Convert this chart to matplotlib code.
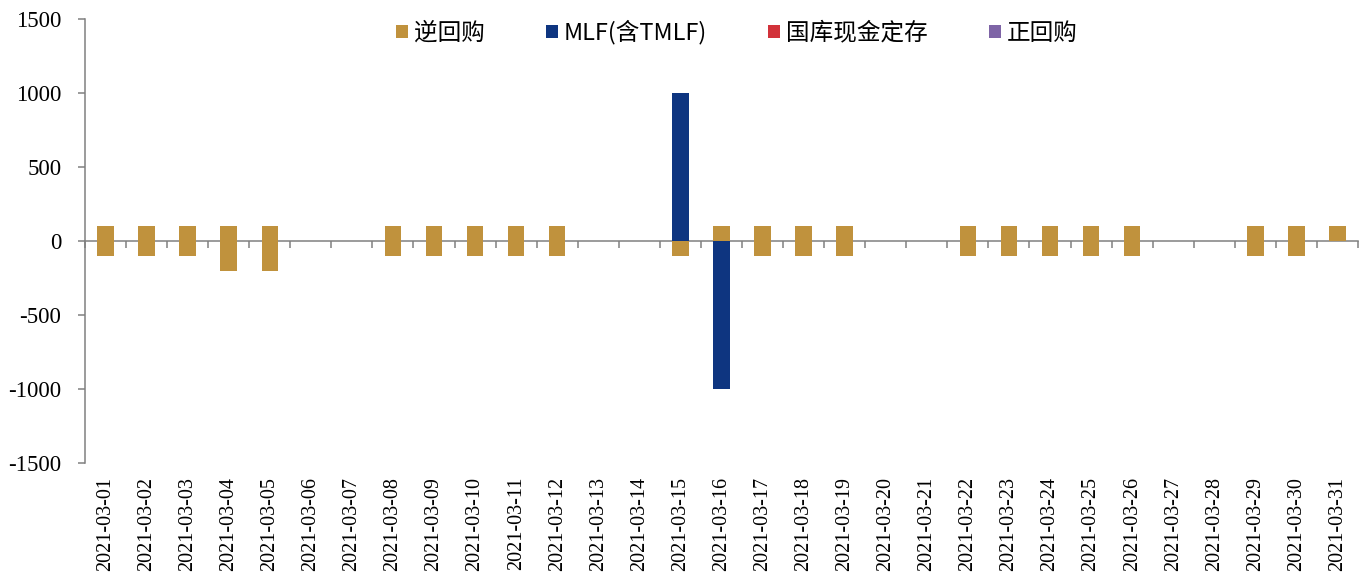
import numpy as np
import matplotlib.pyplot as plt

# 2021年3月公开市场操作（亿元）
dates = ["2021-03-%02d" % d for d in range(1, 32)]

# 逆回购投放（正）与到期（负）
rr_in = [100, 100, 100, 100, 100, 0, 0,
         100, 100, 100, 100, 100, 0, 0,
         100, 100, 100, 100, 100, 0, 0,
         100, 100, 100, 100, 100, 0, 0,
         100, 100, 100]
rr_out = [-100, -100, -100, -200, -200, 0, 0,
          -100, -100, -100, -100, -100, 0, 0,
          -100, -100, -100, -100, -100, 0, 0,
          -100, -100, -100, -100, -100, 0, 0,
          -100, -100, 0]
mlf = [0] * 14 + [1000, -1000] + [0] * 15
treasury = [0] * 31
repo = [0] * 31

c_rr = "#C0923D"
c_mlf = "#0E3580"
c_tr = "#D2323A"
c_repo = "#7E64A6"
grey = "#808080"

plt.rcParams["font.family"] = ["Liberation Serif", "DejaVu Serif"]
plt.rcParams["axes.unicode_minus"] = False

fig = plt.figure(figsize=(13.68, 5.77), dpi=100)
ax = fig.add_axes([0.0621, 0.1976, 0.9306, 0.7695])

x = np.arange(len(dates))
w = 0.4
ax.bar(x, rr_in, width=w, color=c_rr, label="逆回购", zorder=2)
ax.bar(x, rr_out, width=w, color=c_rr, zorder=2)
ax.bar(x, mlf, width=w, color=c_mlf, label="MLF(含TMLF)", zorder=3)
ax.bar(x, treasury, width=w, color=c_tr, label="国库现金定存", zorder=3)
ax.bar(x, repo, width=w, color=c_repo, label="正回购", zorder=3)

ax.set_xlim(-0.5, len(dates) - 0.5)
ax.set_ylim(-1500, 1500)
ax.set_yticks(np.arange(-1500, 1501, 500))
ax.tick_params(axis="y", direction="out", length=5, width=1.1, color=grey,
               labelsize=16.5, pad=12)

ax.set_xticks(x)
ax.set_xticklabels(dates, rotation=90, fontsize=14.5)
ax.tick_params(axis="x", length=0, pad=10)

for s in ["top", "right", "bottom"]:
    ax.spines[s].set_visible(False)
ax.spines["left"].set_color(grey)
ax.spines["left"].set_linewidth(1.1)

# 零轴及分隔刻度
zero = ax.secondary_xaxis(0.5)
zero.set_alignment("bottom")
zero.set_xticks(np.arange(-0.5, len(dates), 1))
zero.tick_params(axis="x", direction="out", length=5, width=1.1, color=grey,
                 labelbottom=False, labeltop=False)
zero.spines["bottom"].set_color(grey)
zero.spines["bottom"].set_linewidth(1.1)

ax.legend(loc="center", bbox_to_anchor=(0.512, 0.97), ncol=4, frameon=False,
          prop={"family": ["Noto Sans CJK SC", "DejaVu Sans"], "size": 17},
          handlelength=0.5, handleheight=0.5, handletextpad=0.25,
          columnspacing=2.6, borderaxespad=0)

fig.savefig("out.png", dpi=100)
